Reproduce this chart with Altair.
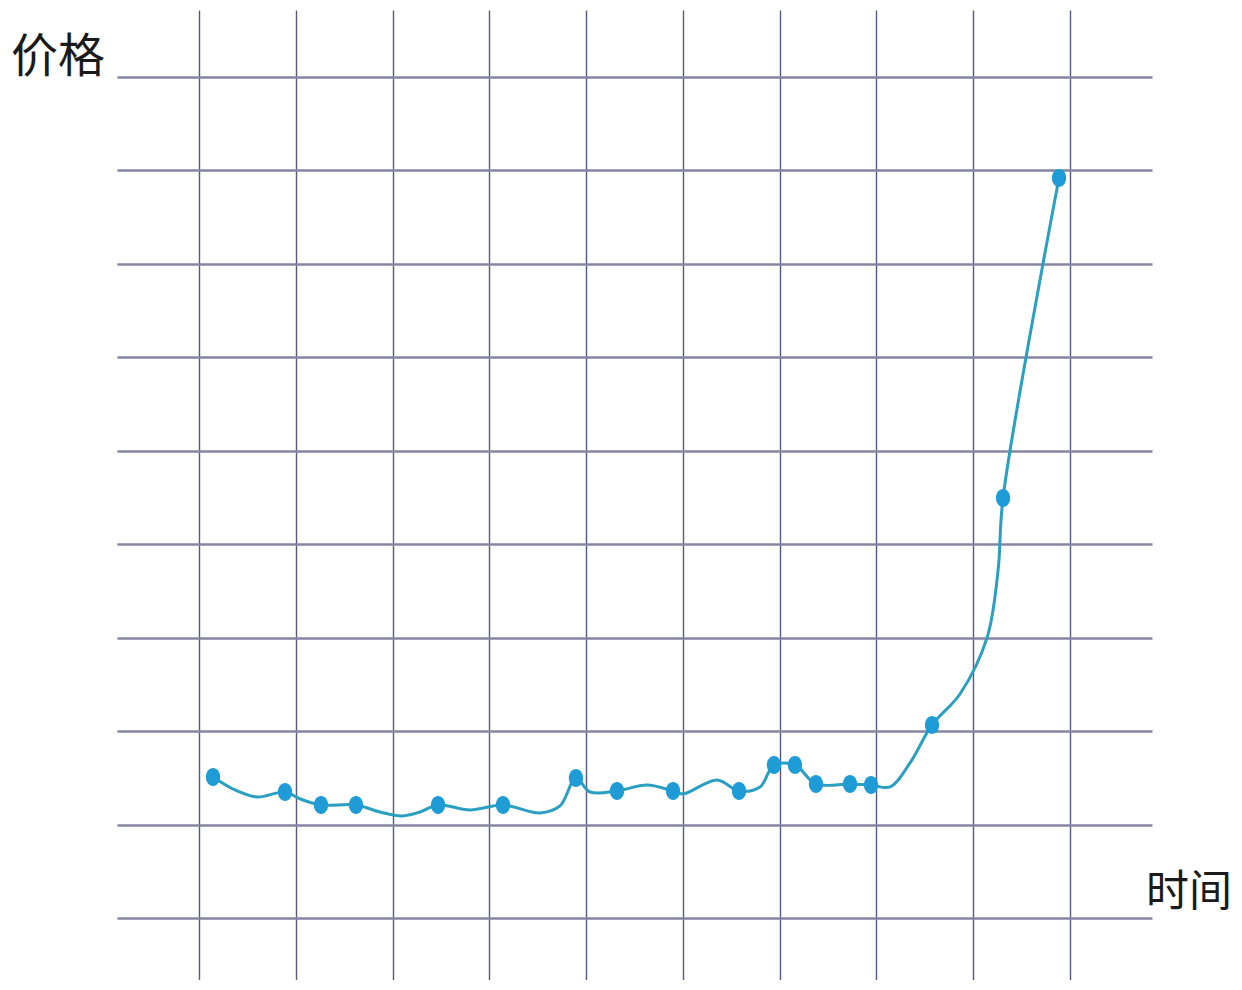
import altair as alt
import pandas as pd

# Marker points (time, price)
point_time = [1.145, 1.889, 2.261, 2.622, 3.470, 4.141, 4.895, 5.319, 5.898,
              6.580, 6.941, 7.158, 7.375, 7.727, 7.944, 8.574, 9.308, 9.886]
point_price = [1.509, 1.348, 1.209, 1.209, 1.209, 1.209, 1.498, 1.359, 1.359,
               1.359, 1.637, 1.637, 1.434, 1.434, 1.423, 2.066, 4.495, 7.920]

# Path of the hand-drawn curve
curve_time = [1.145, 1.372, 1.599, 1.889, 2.044, 2.261, 2.622, 2.870, 3.098, 3.284,
              3.470, 3.800, 4.141, 4.523, 4.730, 4.895, 5.040, 5.319, 5.629, 5.898,
              6.001, 6.352, 6.580, 6.797, 6.941, 7.158, 7.375, 7.727, 7.944, 8.140,
              8.347, 8.574, 8.863, 9.142, 9.256, 9.308, 9.886]
curve_price = [1.509, 1.370, 1.295, 1.348, 1.274, 1.209, 1.209, 1.134, 1.092, 1.134,
               1.209, 1.156, 1.209, 1.124, 1.199, 1.498, 1.348, 1.359, 1.423, 1.359,
               1.327, 1.477, 1.359, 1.402, 1.637, 1.637, 1.434, 1.434, 1.423, 1.402,
               1.659, 2.066, 2.397, 2.997, 3.714, 4.495, 7.920]

grid_x = [1, 2, 3, 4, 5, 6, 7, 8, 9, 10]
grid_y = [0, 1, 2, 3, 4, 5, 6, 7, 8, 9]

y_label = ["价格"]
x_label = ["时间"]

pts = pd.DataFrame({"t": point_time, "p": point_price})
curve = pd.DataFrame({"t": curve_time, "p": curve_price, "o": list(range(len(curve_time)))})

xs = alt.Scale(domain=[0.153, 10.847], nice=False, zero=False)
ys = alt.Scale(domain=[-0.664, 9.717], nice=False, zero=False)

x_axis = alt.Axis(values=grid_x, labels=False, ticks=False, domain=False, title=None,
                  grid=True, gridColor="#56587c", gridWidth=1.4, gridOpacity=1)
y_axis = alt.Axis(values=grid_y, labels=False, ticks=False, domain=False, title=None,
                  grid=True, gridColor="#8486a2", gridWidth=2.4, gridOpacity=1)

line = alt.Chart(curve).mark_line(
    interpolate="catmull-rom", color="#2a9fc0", strokeWidth=3
).encode(
    x=alt.X("t:Q", scale=xs, axis=x_axis),
    y=alt.Y("p:Q", scale=ys, axis=y_axis),
    order="o:Q",
)

ellipse = "M -0.8 0 A 0.8 1 0 1 0 0.8 0 A 0.8 1 0 1 0 -0.8 0 Z"
points = alt.Chart(pts).mark_point(
    shape=ellipse, filled=True, color="#1f9bd5", opacity=1, size=320
).encode(
    x=alt.X("t:Q", scale=xs),
    y=alt.Y("p:Q", scale=ys),
)

ylab = alt.Chart(pd.DataFrame({"s": y_label})).mark_text(
    font="Noto Sans CJK SC", fontSize=47, fontWeight=400, color="#1a1a1a",
    align="left", baseline="middle"
).encode(text="s:N", x=alt.value(-106), y=alt.value(48))

xlab = alt.Chart(pd.DataFrame({"s": x_label})).mark_text(
    font="Noto Sans CJK SC", fontSize=43, fontWeight=400, color="#1a1a1a",
    align="left", baseline="middle"
).encode(text="s:N", x=alt.value(1029), y=alt.value(883))

chart = alt.layer(line, points, ylab, xlab).properties(
    width=1035, height=970,
    autosize=alt.AutoSizeParams(type="none"),
    padding={"left": 109, "top": 2, "right": 80, "bottom": 0},
    background="white",
).configure_view(stroke=None)

chart.save("out.html", embed_options={"renderer": "svg", "actions": False})
